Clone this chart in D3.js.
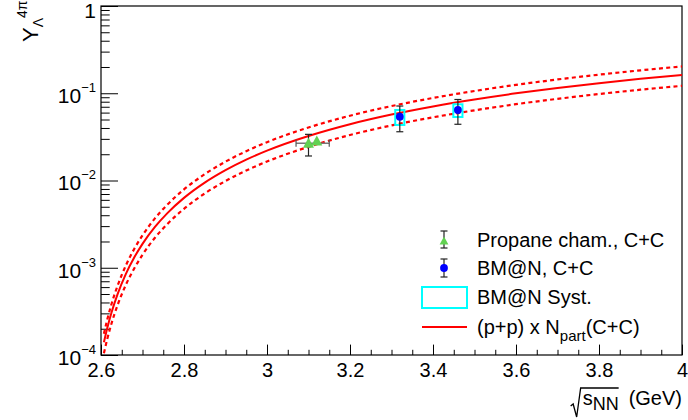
<!DOCTYPE html>
<html>
<head>
<meta charset="utf-8">
<script src="https://cdn.jsdelivr.net/npm/d3@7"></script>
<style>
  html, body { margin: 0; padding: 0; background: #fff; }
  svg { display: block; font-family: "Liberation Sans", Arial, Helvetica, sans-serif; }
</style>
</head>
<body>
<svg id="chart" width="688" height="420"></svg>
<script>
// Lambda yield in C+C versus collision energy
const energyGrid = [2.607, 2.615, 2.625, 2.64, 2.66, 2.68, 2.70, 2.73, 2.76, 2.80, 2.85, 2.90, 2.95, 3.00, 3.10, 3.20, 3.30, 3.40, 3.50, 3.60, 3.70, 3.80, 3.90, 4.00];
const ppScaled   = [1.40e-4, 2.03e-4, 3.03e-4, 4.99e-4, 8.51e-4, 1.31e-3, 1.88e-3, 2.94e-3, 4.23e-3, 6.32e-3, 9.46e-3, 1.315e-2, 1.735e-2, 2.20e-2, 3.24e-2, 4.42e-2, 5.70e-2, 7.06e-2, 8.49e-2, 9.98e-2, 0.1151, 0.1306, 0.1464, 0.1623];
const ppUpper    = [1.75e-4, 2.54e-4, 3.79e-4, 6.24e-4, 1.064e-3, 1.64e-3, 2.35e-3, 3.68e-3, 5.29e-3, 7.9e-3, 1.183e-2, 1.644e-2, 2.17e-2, 2.75e-2, 4.05e-2, 5.53e-2, 7.13e-2, 8.83e-2, 0.1061, 0.1248, 0.1439, 0.1633, 0.183, 0.2029];
const ppLower    = [1.05e-4, 1.52e-4, 2.27e-4, 3.74e-4, 6.38e-4, 9.8e-4, 1.41e-3, 2.21e-3, 3.17e-3, 4.74e-3, 7.10e-3, 9.86e-3, 1.301e-2, 1.65e-2, 2.43e-2, 3.32e-2, 4.28e-2, 5.30e-2, 6.37e-2, 7.49e-2, 8.63e-2, 0.098, 0.1098, 0.1217];

// Propane bubble chamber, C+C
const propaneE     = [3.10, 3.12];
const propaneY     = [0.0267, 0.0284];
const propaneYLo   = [0.0191, null];
const propaneYHi   = [0.0338, null];
const propaneELo   = [3.07, null];
const propaneEHi   = [3.15, null];

// BM@N, C+C
const bmnE       = [3.32, 3.46];
const bmnY       = [0.0538, 0.0643];
const bmnStatLo  = [0.0362, 0.0441];
const bmnStatHi  = [0.0714, 0.0848];
const bmnSystLo  = [0.0433, 0.0534];
const bmnSystHi  = [0.0643, 0.0747];
const bmnSystHalfE = 0.011;

const xTicksMajor = [2.6, 2.8, 3.0, 3.2, 3.4, 3.6, 3.8, 4.0];
const yTicksMajor = [1e-4, 1e-3, 1e-2, 1e-1, 1];
const yTickExp    = [-4, -3, -2, -1, 0];

const legendLabels = ["Propane cham., C+C", "BM@N, C+C", "BM@N Syst.", "(p+p) x N"];

const frame = { left: 101, right: 682, top: 6, bottom: 355 };
const svg = d3.select("#chart");

const x = d3.scaleLinear().domain([2.6, 4.0]).range([frame.left, frame.right]);
const y = d3.scaleLog().domain([1e-4, 1]).range([frame.bottom, frame.top]);

svg.append("defs").append("clipPath").attr("id", "plotClip")
  .append("rect")
  .attr("x", frame.left).attr("y", frame.top)
  .attr("width", frame.right - frame.left).attr("height", frame.bottom - frame.top);

// ---- axes ----
const xMinor = d3.range(2.6, 4.0001, 0.05).map(v => +v.toFixed(2));
svg.append("g")
  .attr("transform", `translate(0,${frame.bottom})`)
  .call(d3.axisBottom(x).tickValues(xMinor).tickSize(-5.2).tickFormat(""))
  .call(g => g.select(".domain").remove());

svg.append("g")
  .attr("class", "x-axis")
  .attr("transform", `translate(0,${frame.bottom})`)
  .call(d3.axisBottom(x).tickValues(xTicksMajor).tickSize(-10.4).tickPadding(8)
        .tickFormat(d => String(+d.toFixed(1))))
  .call(g => g.select(".domain").remove())
  .call(g => g.selectAll("text").attr("font-size", 20).attr("fill", "#000")
             .attr("font-family", "Liberation Sans, Arial, sans-serif"));

const yMinor = [];
for (let e = -4; e < 0; e++) for (let m = 2; m <= 9; m++) yMinor.push(m * Math.pow(10, e));
svg.append("g")
  .attr("transform", `translate(${frame.left},0)`)
  .call(d3.axisLeft(y).tickValues(yMinor).tickSize(-8.7).tickFormat(""))
  .call(g => g.select(".domain").remove());

svg.append("g")
  .attr("class", "y-axis")
  .attr("transform", `translate(${frame.left},0)`)
  .call(d3.axisLeft(y).tickValues(yTicksMajor).tickSize(-17).tickPadding(5).tickFormat(""))
  .call(g => g.select(".domain").remove())
  .call(g => g.selectAll(".tick text").each(function(d, i) {
    const t = d3.select(this)
      .attr("font-size", 21).attr("fill", "#000")
      .attr("font-family", "Liberation Sans, Arial, sans-serif")
      .attr("dy", "0.45em");
    const ex = yTickExp[i];
    if (ex === 0) { t.attr("dy", "0.56em").text("1"); return; }
    t.text(null);
    t.append("tspan").text("10");
    t.append("tspan").attr("font-size", 13).attr("dy", "-0.85em").text("\u2212" + Math.abs(ex));
  }));

// frame
svg.append("rect")
  .attr("x", frame.left).attr("y", frame.top)
  .attr("width", frame.right - frame.left).attr("height", frame.bottom - frame.top)
  .attr("fill", "none").attr("stroke", "#000").attr("stroke-width", 1.2);

// ---- curves ----
const plot = svg.append("g").attr("clip-path", "url(#plotClip)");
const lineGen = vals => d3.line()
  .x((d, i) => x(energyGrid[i]))
  .y((d, i) => y(vals[i]))
  .curve(d3.curveMonotoneX)(vals);

plot.append("path").attr("d", lineGen(ppUpper))
  .attr("fill", "none").attr("stroke", "#ff0000").attr("stroke-width", 2.2).attr("stroke-dasharray", "4,3.3");
plot.append("path").attr("d", lineGen(ppLower))
  .attr("fill", "none").attr("stroke", "#ff0000").attr("stroke-width", 2.2).attr("stroke-dasharray", "4,3.3");
plot.append("path").attr("d", lineGen(ppScaled))
  .attr("fill", "none").attr("stroke", "#ff0000").attr("stroke-width", 2);

// ---- data points ----
const cap = 3.5;
const errColor = "#222";
function vErr(g, cx, lo, hi) {
  g.append("line").attr("x1", cx).attr("x2", cx).attr("y1", lo).attr("y2", hi)
    .attr("stroke", errColor).attr("stroke-width", 1.2);
  [lo, hi].forEach(yy => g.append("line").attr("x1", cx - cap).attr("x2", cx + cap)
    .attr("y1", yy).attr("y2", yy).attr("stroke", errColor).attr("stroke-width", 1.2));
}
function triPath(cx, cy, s) {
  return `M${cx},${cy - s * 0.55}L${cx + s * 0.55},${cy + s * 0.45}L${cx - s * 0.55},${cy + s * 0.45}Z`;
}

const pts = svg.append("g");
// BM@N systematic boxes
bmnE.forEach((e, i) => {
  pts.append("rect")
    .attr("x", x(e - bmnSystHalfE)).attr("y", y(bmnSystHi[i]))
    .attr("width", x(e + bmnSystHalfE) - x(e - bmnSystHalfE))
    .attr("height", y(bmnSystLo[i]) - y(bmnSystHi[i]))
    .attr("fill", "none").attr("stroke", "#00ffff").attr("stroke-width", 2);
});
// BM@N stat errors and markers
bmnE.forEach((e, i) => {
  vErr(pts, x(e), y(bmnStatLo[i]), y(bmnStatHi[i]));
  pts.append("circle").attr("cx", x(e)).attr("cy", y(bmnY[i])).attr("r", 3.9).attr("fill", "#0000ff");
});
// propane chamber points
propaneE.forEach((e, i) => {
  if (propaneELo[i] != null) {
    const yy = y(propaneY[i]);
    pts.append("line").attr("x1", x(propaneELo[i])).attr("x2", x(propaneEHi[i]))
      .attr("y1", yy).attr("y2", yy).attr("stroke", "#777").attr("stroke-width", 1.5);
    [propaneELo[i], propaneEHi[i]].forEach(v => pts.append("line")
      .attr("x1", x(v)).attr("x2", x(v)).attr("y1", yy - cap).attr("y2", yy + cap)
      .attr("stroke", "#555").attr("stroke-width", 1.2));
  }
  if (propaneYLo[i] != null) vErr(pts, x(e), y(propaneYLo[i]), y(propaneYHi[i]));
});
propaneE.forEach((e, i) => {
  pts.append("path").attr("d", triPath(x(e), y(propaneY[i]), 10)).attr("fill", "#62d152");
});

// ---- legend ----
const lg = svg.append("g").attr("font-size", 20).attr("fill", "#000");
const lgMarkX = 444, lgTextX = 477;
const rowY = [240, 268, 297, 327];
vErr(lg, lgMarkX, rowY[0] + 8, rowY[0] - 9);
lg.append("path").attr("d", triPath(lgMarkX, rowY[0] + 1, 8)).attr("fill", "#62d152");
vErr(lg, lgMarkX, rowY[1] + 9, rowY[1] - 9);
lg.append("circle").attr("cx", lgMarkX).attr("cy", rowY[1]).attr("r", 3.9).attr("fill", "#0000ff");
lg.append("rect").attr("x", 422).attr("y", rowY[2] - 10).attr("width", 45).attr("height", 21)
  .attr("fill", "none").attr("stroke", "#00ffff").attr("stroke-width", 2);
lg.append("line").attr("x1", 422).attr("x2", 467).attr("y1", rowY[3]).attr("y2", rowY[3])
  .attr("stroke", "#ff0000").attr("stroke-width", 2);

legendLabels.forEach((t, i) => {
  const tx = lg.append("text").attr("x", lgTextX).attr("y", rowY[i]).attr("dy", "0.36em").text(t);
  if (i === 3) {
    tx.append("tspan").attr("font-size", 15).attr("dy", "0.45em").text("part");
    tx.append("tspan").attr("dy", "-0.34em").text("(C+C)");
  }
});

// ---- axis titles ----
const xt = svg.append("g").attr("font-size", 20).attr("fill", "#000");
const xTitle = xt.append("text").attr("x", frame.right).attr("y", 405).attr("text-anchor", "end");
xTitle.append("tspan").text("s");
xTitle.append("tspan").attr("font-size", 18).attr("dy", 5).text("NN");
xTitle.append("tspan").attr("dy", -5).attr("dx", 10).text("(GeV)");
// radical sign drawn over s_NN
const titleParts = xTitle.node().childNodes;
const bbS = titleParts[0].getBBox(), bbN = titleParts[1].getBBox();
const rx0 = bbS.x - 12, rTop = bbS.y + 1;
xt.append("path")
  .attr("d", `M${rx0},${rTop + 18}L${rx0 + 2.5},${rTop + 16}L${rx0 + 6},${rTop + 29}L${rx0 + 10},${rTop}L${bbN.x + bbN.width},${rTop}`)
  .attr("fill", "none").attr("stroke", "#000").attr("stroke-width", 1.3);

const yTitle = svg.append("text")
  .attr("transform", "translate(38,42) rotate(-90)")
  .attr("font-size", 22).attr("fill", "#000");
yTitle.append("tspan").text("Y");
yTitle.append("tspan").attr("font-size", 14).attr("dy", 5).text("\u039B");
yTitle.append("tspan").attr("font-size", 14).attr("dy", -16).text("4\u03C0");
</script>
</body>
</html>
